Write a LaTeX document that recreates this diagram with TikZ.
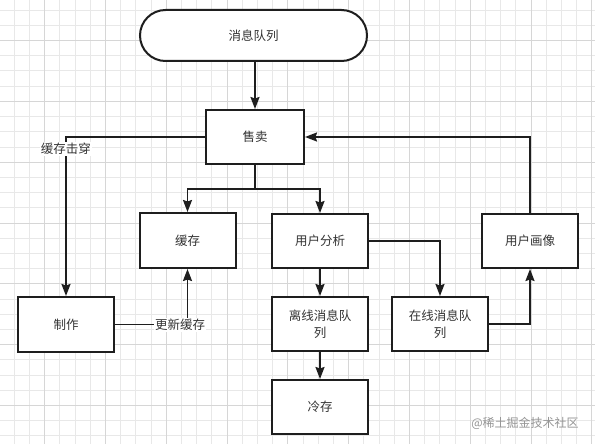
\documentclass[tikz,border=0pt]{standalone}
\usepackage{fontspec}
\newfontfamily\cjk{Noto Sans CJK SC}
\usetikzlibrary{arrows.meta}
\definecolor{gridminor}{HTML}{E8E8E8}
\definecolor{gridmajor}{HTML}{D6D6D6}
\definecolor{txt}{HTML}{333333}
\definecolor{stroke}{HTML}{1E1E1E}
\tikzset{
  box/.style={draw=stroke, line width=2pt, fill=white, rectangle, minimum width=96pt, minimum height=54pt, inner sep=2pt, align=center, text=txt, font=\cjk\fontsize{12.5}{17}\selectfont},
  term/.style={box, rounded corners=25.5pt, minimum width=227pt, minimum height=51pt},
  conn/.style={draw=stroke, line width=1.8pt},
  arr/.style={conn, -{Stealth[length=12pt, width=9pt, inset=1.5pt]}},
  lbl/.style={fill=white, inner sep=1pt, text=txt, font=\cjk\fontsize{12.5}{15}\selectfont},
  wm/.style={inner sep=0pt, text=black!42, font=\cjk\fontsize{12}{14}\selectfont},
}
\begin{document}
\begin{tikzpicture}[x=1pt, y=-1pt]
\useasboundingbox (0,0) rectangle (595,444);
\fill[white] (0,0) rectangle (595,444);
% grid
\foreach \k in {0,...,38} {
  \pgfmathsetmacro{\gx}{14+15.2*\k}
  \ifdim\gx pt<595pt \draw[gridminor, line width=0.6pt] (\gx,0) -- (\gx,444); \fi
}
\foreach \k in {0,...,29} {
  \pgfmathsetmacro{\gy}{10+15.2*\k}
  \ifdim\gy pt<444pt \draw[gridminor, line width=0.6pt] (0,\gy) -- (595,\gy); \fi
}
\foreach \k in {-1,...,9} {
  \pgfmathsetmacro{\gx}{44.4+60.8*\k}
  \draw[gridmajor, line width=0.6pt] (\gx,0) -- (\gx,444);
}
\foreach \k in {-1,...,7} {
  \pgfmathsetmacro{\gy}{40.4+60.8*\k}
  \draw[gridmajor, line width=0.6pt] (0,\gy) -- (595,\gy);
}

% nodes
\node[term] (mq) at (253.5,35.5) {消息队列};
\node[box, minimum width=98pt] (sell) at (255,137) {售卖};
\node[box, minimum height=55pt] (cache) at (187.5,240.5) {缓存};
\node[box, minimum height=55pt] (make) at (66,324.5) {制作};
\node[box] (ua) at (320,241) {用户分析};
\node[box] (off) at (320,324) {离线消息队\\列};
\node[box] (cold) at (320,407) {冷存};
\node[box] (on) at (440,324) {在线消息队\\列};
\node[box] (up) at (530,241) {用户画像};

% connectors
\coordinate (j) at (255,189);
\draw[arr] (sell.north |- mq.south) -- (sell.north);
\draw[conn] (sell.south) -- (j);
\draw[arr] (j) -| (cache.north);
\draw[arr] (j) -| (ua.north);
\draw[arr] (sell.west) -| (make.north);
\draw[arr] (make.east) -| (cache.south);
\draw[arr] (ua.south) -- (off.north);
\draw[arr] (off.south) -- (cold.north);
\draw[arr] (ua.east) -| (on.north);
\draw[arr] (on.east) -| (up.south);
\draw[arr] (up.north) |- (sell.east);

% labels
\node[lbl] (l1) at (66,149) {缓存击穿};
\node[lbl] (l2) at (180,325) {更新缓存};
\node[wm] (w) at (525,423) {@稀土掘金技术社区};
\end{tikzpicture}
\end{document}
